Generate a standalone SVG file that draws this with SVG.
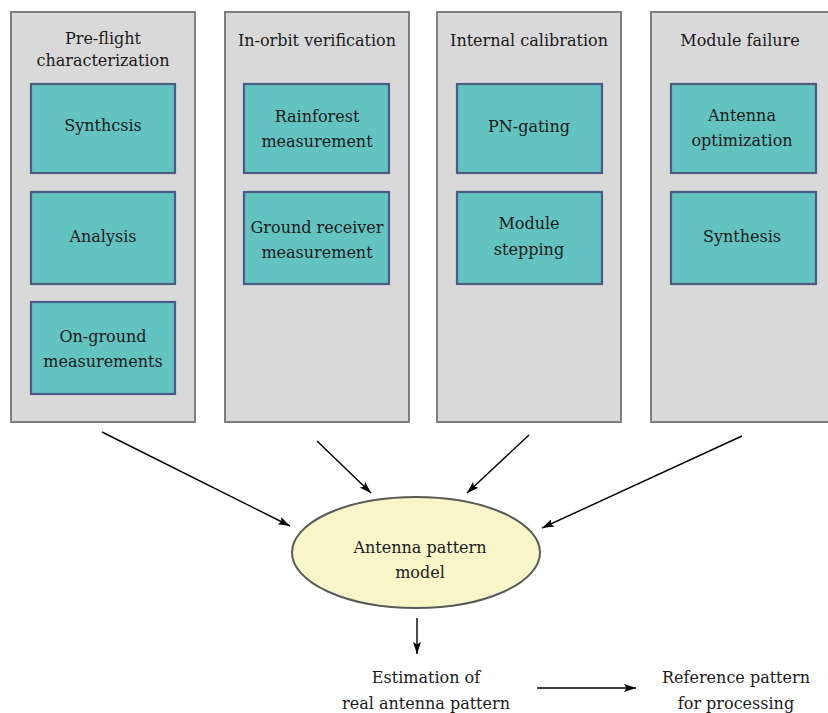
<svg xmlns="http://www.w3.org/2000/svg" width="828" height="713" viewBox="0 0 828 713">
<style>
.panel{fill:#d9d9d9;stroke:#7f7f7f;stroke-width:2}
.box{fill:#62c3c1;stroke:#4c5a86;stroke-width:2.2}
.ell{fill:#f8f5c9;stroke:#5a5a5a;stroke-width:2}
text{font-family:"DejaVu Serif","Liberation Serif",serif;font-size:16px;fill:#1a1a1a;text-anchor:middle}
.conn line{stroke:#000;stroke-width:1.4;fill:none}
</style>
<defs>
<marker id="ah" viewBox="0 0 12 8" refX="12" refY="4" markerWidth="12" markerHeight="8" markerUnits="userSpaceOnUse" orient="auto">
<path d="M0,0 L12,4 L0,8 L2.5,4 Z" fill="#000"/>
</marker>
</defs>
<rect width="828" height="713" fill="#fff"/>
<g id="panel-preflight">
<rect class="panel" x="11" y="12" width="184" height="410"/>
<text x="103" y="44">Pre-flight</text>
<text x="103" y="66">characterization</text>
</g>
<g id="node-synthcsis">
<rect class="box" x="31" y="84" width="144" height="89"/>
<text x="103" y="131">Synthcsis</text>
</g>
<g id="node-analysis">
<rect class="box" x="31" y="192" width="144" height="92"/>
<text x="103" y="242">Analysis</text>
</g>
<g id="node-onground">
<rect class="box" x="31" y="302" width="144" height="92"/>
<text x="103" y="342">On-ground</text>
<text x="103" y="367">measurements</text>
</g>
<g id="panel-inorbit">
<rect class="panel" x="225" y="12" width="184" height="410"/>
<text x="317" y="45.5">In-orbit verification</text>
</g>
<g id="node-rainforest">
<rect class="box" x="244" y="84" width="145" height="89"/>
<text x="317" y="122">Rainforest</text>
<text x="317" y="147">measurement</text>
</g>
<g id="node-ground-receiver">
<rect class="box" x="244" y="192" width="145" height="92"/>
<text x="317" y="233">Ground receiver</text>
<text x="317" y="258">measurement</text>
</g>
<g id="panel-internal">
<rect class="panel" x="437" y="12" width="184" height="410"/>
<text x="529" y="45.5">Internal calibration</text>
</g>
<g id="node-pngating">
<rect class="box" x="457" y="84" width="145" height="89"/>
<text x="529" y="132">PN-gating</text>
</g>
<g id="node-module-stepping">
<rect class="box" x="457" y="192" width="145" height="92"/>
<text x="529" y="229">Module</text>
<text x="529" y="255">stepping</text>
</g>
<g id="panel-module-failure">
<rect class="panel" x="651" y="12" width="184" height="410"/>
<text x="740" y="45.5">Module failure</text>
</g>
<g id="node-antenna-optimization">
<rect class="box" x="671" y="84" width="145" height="89"/>
<text x="742" y="121">Antenna</text>
<text x="742" y="146">optimization</text>
</g>
<g id="node-synthesis">
<rect class="box" x="671" y="192" width="145" height="92"/>
<text x="742" y="242">Synthesis</text>
</g>
<g id="node-model">
<ellipse class="ell" cx="416" cy="552.5" rx="124" ry="55.5"/>
<text x="420" y="553">Antenna pattern</text>
<text x="420" y="578">model</text>
</g>
<g id="node-estimation">
<text x="426" y="683">Estimation of</text>
<text x="426" y="709">real antenna pattern</text>
</g>
<g id="node-reference">
<text x="736" y="683">Reference pattern</text>
<text x="736" y="709">for processing</text>
</g>
<g id="connectors" class="conn">
<line x1="102" y1="432" x2="290" y2="526" marker-end="url(#ah)"/>
<line x1="317" y1="441" x2="371" y2="493" marker-end="url(#ah)"/>
<line x1="529" y1="435" x2="467" y2="493" marker-end="url(#ah)"/>
<line x1="742" y1="436" x2="542" y2="528" marker-end="url(#ah)"/>
<line x1="417" y1="618" x2="417" y2="654" marker-end="url(#ah)"/>
<line x1="537" y1="688" x2="636" y2="688" marker-end="url(#ah)"/>
</g>
</svg>
